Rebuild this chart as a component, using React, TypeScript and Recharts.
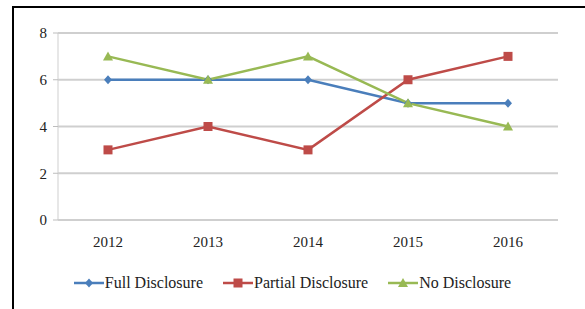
import { ComposedChart, Line, XAxis, YAxis, CartesianGrid, Legend } from 'recharts';

const years = ['2012', '2013', '2014', '2015', '2016'];
const fullDisclosure = [6, 6, 6, 5, 5];
const partialDisclosure = [3, 4, 3, 6, 7];
const noDisclosure = [7, 6, 7, 5, 4];
const yTicks = [0, 2, 4, 6, 8];
const bandEdges = [0, 1, 2, 3, 4, 5];

const BLUE = '#4a7ebb';
const RED = '#be4b48';
const GREEN = '#98b954';
const FONT = 'Liberation Serif, DejaVu Serif, serif';

const data = years.map((year, i) => ({
  year,
  full: fullDisclosure[i],
  partial: partialDisclosure[i],
  none: noDisclosure[i],
}));

type Shape = 'diamond' | 'square' | 'triangle';

function marker(shape: Shape, cx: number, cy: number, color: string, key?: string) {
  if (shape === 'diamond') {
    return <path key={key} d={`M${cx},${cy - 4.5}L${cx + 4},${cy}L${cx},${cy + 4.5}L${cx - 4},${cy}Z`} fill={color} />;
  }
  if (shape === 'square') {
    return <rect key={key} x={cx - 4.5} y={cy - 4.5} width={9} height={9} fill={color} />;
  }
  return <path key={key} d={`M${cx},${cy - 5}L${cx + 5},${cy + 4}L${cx - 5},${cy + 4}Z`} fill={color} />;
}

const dotFor = (shape: Shape, color: string) => (props: any) => {
  const { cx, cy, index } = props;
  if (cx == null || cy == null) return <g key={index} />;
  return marker(shape, cx, cy, color, `${shape}-${index}`);
};

const legendItems: { label: string; color: string; shape: Shape }[] = [
  { label: 'Full Disclosure', color: BLUE, shape: 'diamond' },
  { label: 'Partial Disclosure', color: RED, shape: 'square' },
  { label: 'No Disclosure', color: GREEN, shape: 'triangle' },
];

function ChartLegend() {
  return (
    <div style={{ display: 'flex', justifyContent: 'center', alignItems: 'center', gap: 20, height: 20 }}>
      {legendItems.map((item) => (
        <div key={item.label} style={{ display: 'flex', alignItems: 'center' }}>
          <svg width={30} height={12}>
            <line x1={0} y1={6} x2={30} y2={6} stroke={item.color} strokeWidth={2.5} />
            {marker(item.shape, 15, 6, item.color)}
          </svg>
          <span style={{ marginLeft: 1, fontFamily: FONT, fontSize: 16, color: '#222' }}>{item.label}</span>
        </div>
      ))}
    </div>
  );
}

export default function App() {
  return (
    <div style={{ position: 'absolute', left: 0, top: 0, width: 585, height: 309, background: '#fff', overflow: 'hidden', fontFamily: FONT }}>
      <div style={{ position: 'absolute', left: 12, top: 6, width: 600, height: 320, borderLeft: '2px solid #000', borderTop: '2px solid #000' }} />
      <div style={{ position: 'absolute', left: 0, top: 0 }}>
        <ComposedChart width={585} height={309} data={data} margin={{ top: 33, right: 27, left: 13, bottom: 39 }}>
          <CartesianGrid vertical={false} stroke="#cfcfcf" strokeWidth={2} />
          <XAxis
            xAxisId="edges"
            type="number"
            domain={[0, 5]}
            ticks={bandEdges}
            allowDataOverflow
            height={0}
            tick={false}
            axisLine={false}
            tickLine={{ stroke: '#bdbdbd' }}
            tickSize={5}
          />
          <XAxis
            dataKey="year"
            scale="point"
            padding={{ left: 50, right: 50 }}
            height={30}
            tickLine={false}
            axisLine={{ stroke: '#cfcfcf', strokeWidth: 2 }}
            tick={{ fontSize: 15, fill: '#222', fontFamily: FONT }}
            tickMargin={10}
          />
          <YAxis
            domain={[0, 8]}
            ticks={yTicks}
            width={45}
            axisLine={{ stroke: '#cfcfcf' }}
            tickLine={{ stroke: '#bdbdbd' }}
            tickSize={5}
            tickMargin={6}
            tick={{ fontSize: 15, fill: '#222', fontFamily: FONT }}
          />
          <Line dataKey="full" stroke={BLUE} strokeWidth={2.5} dot={dotFor('diamond', BLUE)} activeDot={false} isAnimationActive={false} />
          <Line dataKey="partial" stroke={RED} strokeWidth={2.5} dot={dotFor('square', RED)} activeDot={false} isAnimationActive={false} />
          <Line dataKey="none" stroke={GREEN} strokeWidth={2.5} dot={dotFor('triangle', GREEN)} activeDot={false} isAnimationActive={false} />
          <Legend content={<ChartLegend />} wrapperStyle={{ top: 273, left: 0, width: 585 }} />
        </ComposedChart>
      </div>
    </div>
  );
}
